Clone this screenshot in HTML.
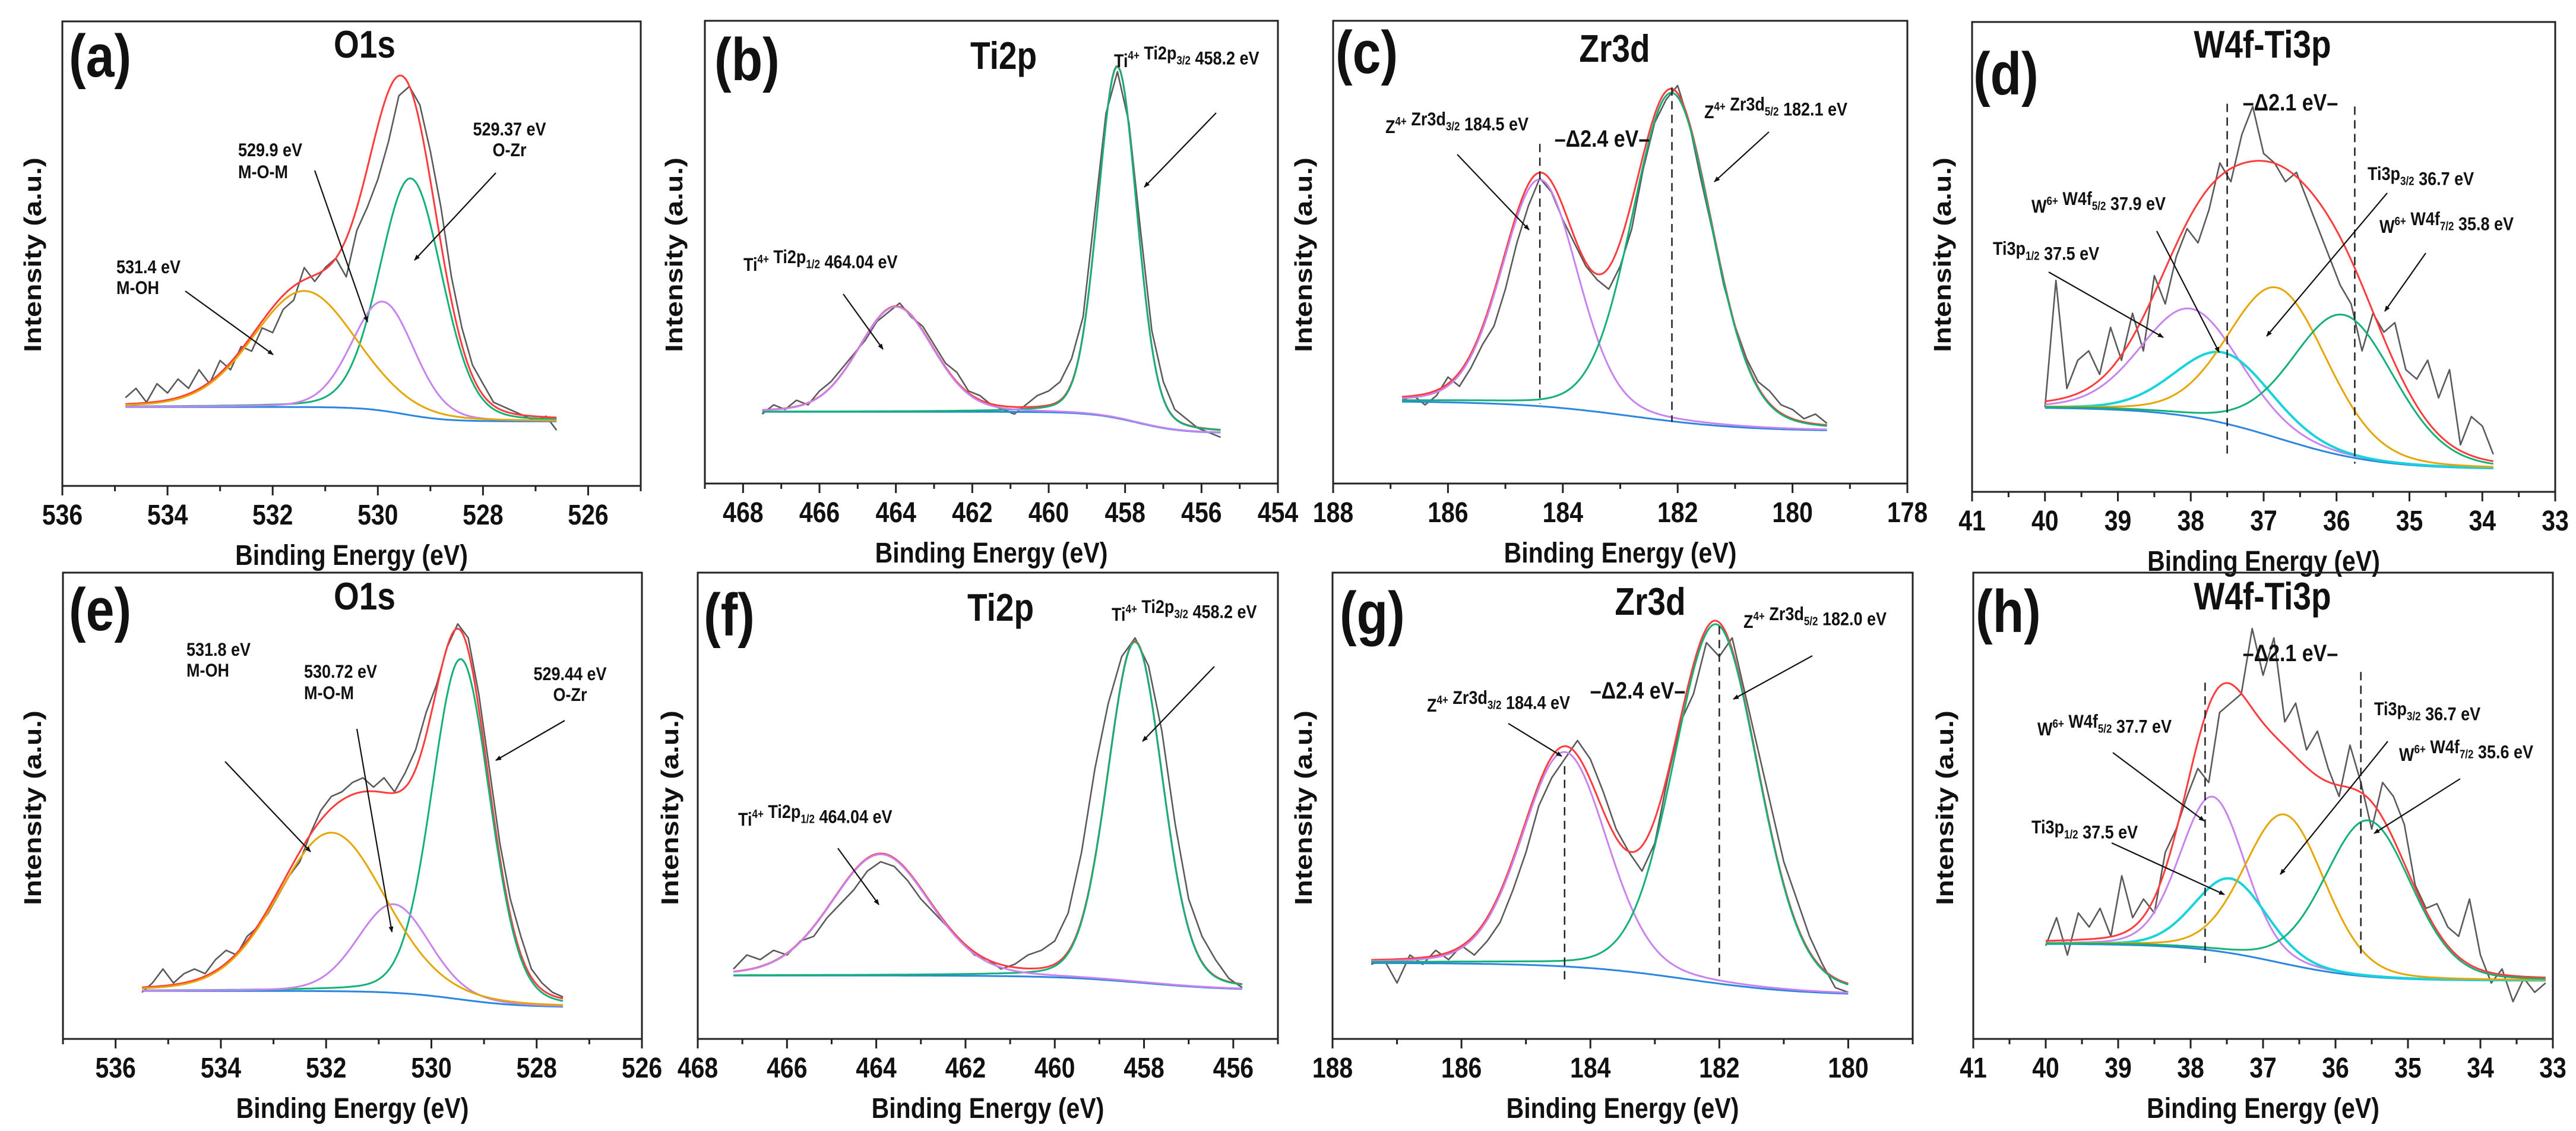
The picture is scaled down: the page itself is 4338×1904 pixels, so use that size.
<!DOCTYPE html>
<html><head><meta charset="utf-8"><style>
html,body{margin:0;padding:0;background:#fff}
svg{display:block}
text{font-family:"Liberation Sans",Arial,sans-serif;font-weight:bold;fill:#111}
</style></head><body>
<svg id="fig" xmlns="http://www.w3.org/2000/svg" width="4338" height="1904" viewBox="0 0 4338 1904">
<defs><marker id="ah" markerWidth="10" markerHeight="8" refX="9" refY="4" orient="auto" markerUnits="userSpaceOnUse" viewBox="0 0 10 8"><path d="M0,0 L10,4 L0,8 Z" fill="#111"/></marker></defs>
<rect width="4338" height="1904" fill="#fff"/>
</svg>
<script>
// ===== DATA (intensity as fraction of frame height) =====
// (a) O1s
const rawStartA=534.8, rawStepA=-0.2;
const rawA=[.19,.21,.18,.22,.20,.23,.21,.25,.22,.27,.25,.30,.29,.34,.33,.38,.40,.47,.44,.47,.49,.45,.55,.60,.66,.74,.84,.86,.82,.72,.60,.45,.34,.26,.22,.18,.17,.16,.15,.14,.15,.12];
const centersA=[529.37,529.9,531.4], heightsA=[.51,.235,.25], fwhmA=[1.4,1.4,2.3];
const baseA=[.17,.139,529.5,.4];
// (b) Ti2p
const rawStartB=467.5, rawStepB=-0.3;
const rawB=[.15,.17,.16,.18,.17,.20,.22,.25,.28,.31,.35,.37,.39,.36,.34,.30,.26,.24,.20,.19,.17,.16,.15,.17,.19,.20,.22,.27,.36,.58,.80,.89,.78,.55,.33,.22,.16,.14,.12,.11,.10];
const centersB=[458.2,464.0], heightsB=[.76,.227], fwhmB=[1.2,2.3];
const baseB=[.155,.109,457.7,.6];
// (c) Zr3d
const rawStartC=186.8, rawStepC=-0.2;
const rawC=[.18,.19,.17,.19,.23,.21,.25,.30,.34,.42,.52,.60,.66,.63,.57,.52,.47,.44,.42,.47,.55,.68,.78,.83,.86,.78,.66,.55,.43,.34,.27,.22,.20,.17,.16,.14,.15,.13];
const centersC=[184.4,182.1], heightsC=[.49,.71], fwhmC=[1.55,1.65];
const baseC=[.178,.113,182.8,1.0];
// (d) W4f-Ti3p
const rawStartD=40.0, rawStepD=-0.15;
const rawD=[.18,.45,.22,.28,.30,.25,.35,.28,.38,.30,.46,.40,.50,.56,.53,.60,.70,.66,.76,.82,.72,.70,.66,.68,.62,.56,.50,.44,.40,.30,.38,.34,.36,.26,.24,.28,.20,.26,.10,.16,.14,.08];
const centersD=[38.0,37.55,36.8,35.9], heightsD=[.23,.15,.32,.30], fwhmD=[1.6,1.55,1.6,1.65];
const baseD=[.18,.048,36.8,.7];
// (e) O1s
const rawStartE=535.5, rawStepE=-0.2;
const rawE=[.10,.12,.15,.12,.14,.15,.14,.17,.19,.18,.22,.24,.27,.31,.35,.38,.44,.49,.52,.53,.55,.56,.54,.56,.53,.57,.62,.70,.76,.84,.89,.86,.74,.58,.42,.30,.22,.15,.12,.10,.09];
const centersE=[529.44,530.72,531.9], heightsE=[.73,.19,.34], fwhmE=[1.3,1.6,2.4];
const baseE=[.103,.068,529.5,.6];
// (f) Ti2p
const rawStartF=467.2, rawStepF=-0.3;
const rawF=[.15,.18,.17,.19,.18,.21,.22,.26,.29,.32,.36,.38,.37,.34,.30,.27,.24,.21,.18,.17,.15,.16,.18,.19,.21,.27,.40,.58,.72,.82,.86,.80,.66,.46,.30,.22,.17,.13,.11];
const centersF=[458.2,463.9], heightsF=[.73,.26], fwhmF=[1.45,2.6];
const baseF=[.136,.104,458,1.0];
// (g) Zr3d
const rawStartG=187.4, rawStepG=-0.2;
const rawG=[.16,.17,.12,.18,.16,.19,.17,.20,.18,.21,.25,.32,.40,.50,.56,.60,.64,.60,.53,.45,.40,.36,.42,.56,.68,.74,.85,.82,.86,.74,.62,.50,.38,.30,.22,.16,.11,.10];
const centersG=[184.4,182.05], heightsG=[.46,.77], fwhmG=[1.55,1.55];
const baseG=[.163,.093,182.5,.9];
// (h) W4f-Ti3p
const rawStartH=40.0, rawStepH=-0.15;
const rawH=[.20,.26,.18,.27,.24,.28,.22,.35,.26,.30,.27,.40,.45,.52,.58,.55,.70,.72,.74,.88,.78,.86,.68,.72,.62,.66,.58,.52,.63,.55,.45,.55,.52,.46,.33,.28,.29,.24,.22,.30,.18,.12,.15,.08,.13,.10,.12];
const centersH=[37.7,37.45,36.7,35.55], heightsH=[.33,.16,.32,.335], fwhmH=[1.06,1.18,1.3,1.41];
const baseH=[.204,.125,36.8,.6];

// ===== LAYOUT =====
const COL={green:'#13b078',purple:'#c883ee',orange:'#e6a500',cyan:'#16d3dc',blue:'#2a86e0',red:'#ff3b3b',raw:'#5a5a5a'};
const S=1.18;
const NS='http://www.w3.org/2000/svg';
const svg=document.getElementById('fig');
function mk(tag,attrs){const e=document.createElementNS(NS,tag);for(const k in attrs)e.setAttribute(k,attrs[k]);svg.appendChild(e);return e;}
function txt(x,y,html,size,anchor,rot){const e=mk('text',{transform:`translate(${x},${y}) scale(1,${S})`+(rot?' rotate(-90)':''),'font-size':size,'text-anchor':anchor||'start'});e.innerHTML=html;return e;}
function sup(s){return `<tspan dy="-11" font-size="17">${s}</tspan><tspan dy="11"></tspan>`;}
function sub(s){return `<tspan dy="7" font-size="17">${s}</tspan><tspan dy="-7"></tspan>`;}

const panels=[
 {id:'a',x0:105,x1:1079,y0:36,y1:818,eL:536,eR:525,lab:[536,534,532,530,528,526],minor:1,title:'O1s',tcx:614,tcy:73,lx:116,lcy:92,ytx:53,ytcy:429,
  raw:rawA,rs:rawStartA,rst:rawStepA,cen:centersA,hgt:heightsA,fw:fwhmA,base:baseA,cols:['green','purple','orange'],
  ann:[{x:858,y:228,a:'middle',t:'529.37 eV'},{x:858,y:263,a:'middle',t:'O-Zr'},{x:401,y:263,t:'529.9 eV'},{x:401,y:300,t:'M-O-M'},{x:196,y:460,t:'531.4 eV'},{x:196,y:495,t:'M-OH'}],
  arr:[[835,291,698,438],[530,287,619,542],[312,490,460,597]],dash:[]},
 {id:'b',x0:1187,x1:2152,y0:35,y1:814,eL:469,eR:454,lab:[468,466,464,462,460,458,456,454],minor:1,title:'Ti2p',tcx:1690,tcy:92,lx:1203,lcy:98,ytx:1133,ytcy:429,
  raw:rawB,rs:rawStartB,rst:rawStepB,cen:centersB,hgt:heightsB,fw:fwhmB,base:baseB,cols:['green','purple'],
  ann:[{x:1876,y:113,t:'Ti'+sup('4+')+' Ti2p'+sub('3/2')+'  458.2 eV'},{x:1252,y:456,t:'Ti'+sup('4+')+' Ti2p'+sub('1/2')+'  464.04 eV'}],
  arr:[[2048,190,1927,315],[1420,495,1487,588]],dash:[]},
 {id:'c',x0:2245,x1:3212,y0:35,y1:814,eL:188,eR:178,lab:[188,186,184,182,180,178],minor:1,title:'Zr3d',tcx:2719,tcy:80,lx:2249,lcy:86,ytx:2193,ytcy:429,
  raw:rawC,rs:rawStartC,rst:rawStepC,cen:centersC,hgt:heightsC,fw:fwhmC,base:baseC,cols:['purple','green'],
  ann:[{x:2333,y:224,t:'Z'+sup('4+')+' Zr3d'+sub('3/2')+' 184.5 eV'},{x:2870,y:199,t:'Z'+sup('4+')+' Zr3d'+sub('5/2')+' 182.1 eV'},{x:2698,y:247,a:'middle',s:34,t:'–Δ2.4 eV–'}],
  arr:[[2454,260,2575,387],[2979,222,2887,306]],dash:[[184.4,.734,.172],[182.1,.856,.133]]},
 {id:'d',x0:3321,x1:4303,y0:37,y1:828,eL:41,eR:33,lab:[41,40,39,38,37,36,35,34,33],minor:.5,title:'W4f-Ti3p',tcx:3810,tcy:73,lx:3323,lcy:122,ytx:3269,ytcy:429,
  raw:rawD,rs:rawStartD,rst:rawStepD,cen:centersD,hgt:heightsD,fw:fwhmD,base:baseD,cols:['purple','cyan','orange','green'],
  ann:[{x:3987,y:303,t:'Ti3p'+sub('3/2')+' 36.7 eV'},{x:3421,y:358,t:'W'+sup('6+')+' W4f'+sub('5/2')+' 37.9 eV'},{x:4007,y:392,t:'W'+sup('6+')+' W4f'+sub('7/2')+' 35.8 eV'},{x:3356,y:429,t:'Ti3p'+sub('1/2')+' 37.5 eV'},{x:3857,y:186,a:'middle',s:34,t:'–Δ2.1 eV–'}],
  arr:[[4020,325,3817,566],[3632,389,3737,593],[4085,426,4016,524],[3450,458,3643,568]],dash:[[37.5,.826,.071],[35.75,.82,.06]]},
 {id:'e',x0:106,x1:1081,y0:964,y1:1749,eL:537,eR:526,lab:[536,534,532,530,528,526],minor:1,title:'O1s',tcx:614,tcy:1002,lx:116,lcy:1024,ytx:53,ytcy:1360,
  raw:rawE,rs:rawStartE,rst:rawStepE,cen:centersE,hgt:heightsE,fw:fwhmE,base:baseE,cols:['green','purple','orange'],
  ann:[{x:314,y:1104,t:'531.8 eV'},{x:314,y:1139,t:'M-OH'},{x:512,y:1141,t:'530.72 eV'},{x:512,y:1177,t:'M-O-M'},{x:960,y:1145,a:'middle',t:'529.44 eV'},{x:960,y:1180,a:'middle',t:'O-Zr'}],
  arr:[[379,1282,523,1434],[601,1227,660,1569],[951,1213,835,1280]],dash:[]},
 {id:'f',x0:1175,x1:2152,y0:964,y1:1749,eL:468,eR:455,lab:[468,466,464,462,460,458,456],minor:1,title:'Ti2p',tcx:1685,tcy:1021,lx:1185,lcy:1033,ytx:1126,ytcy:1360,
  raw:rawF,rs:rawStartF,rst:rawStepF,cen:centersF,hgt:heightsF,fw:fwhmF,base:baseF,cols:['green','purple'],
  ann:[{x:1872,y:1045,t:'Ti'+sup('4+')+' Ti2p'+sub('3/2')+'  458.2 eV'},{x:1243,y:1390,t:'Ti'+sup('4+')+' Ti2p'+sub('1/2')+'  464.04 eV'}],
  arr:[[2045,1122,1924,1248],[1411,1428,1480,1523]],dash:[]},
 {id:'g',x0:2244,x1:3221,y0:964,y1:1749,eL:188,eR:179,lab:[188,186,184,182,180],minor:1,title:'Zr3d',tcx:2779,tcy:1011,lx:2256,lcy:1030,ytx:2193,ytcy:1360,
  raw:rawG,rs:rawStartG,rst:rawStepG,cen:centersG,hgt:heightsG,fw:fwhmG,base:baseG,cols:['purple','green'],
  ann:[{x:2936,y:1057,t:'Z'+sup('4+')+' Zr3d'+sub('5/2')+' 182.0 eV'},{x:2403,y:1198,t:'Z'+sup('4+')+' Zr3d'+sub('3/2')+' 184.4 eV'},{x:2758,y:1176,a:'middle',s:34,t:'–Δ2.4 eV–'}],
  arr:[[3052,1104,2919,1177],[2540,1218,2630,1273]],dash:[[184.4,.585,.117],[182.0,.885,.129]]},
 {id:'h',x0:3323,x1:4299,y0:964,y1:1749,eL:41,eR:33,lab:[41,40,39,38,37,36,35,34,33],minor:.5,title:'W4f-Ti3p',tcx:3810,tcy:1002,lx:3327,lcy:1027,ytx:3273,ytcy:1360,
  raw:rawH,rs:rawStartH,rst:rawStepH,cen:centersH,hgt:heightsH,fw:fwhmH,base:baseH,cols:['purple','cyan','orange','green'],
  ann:[{x:3998,y:1204,t:'Ti3p'+sub('3/2')+' 36.7 eV'},{x:3431,y:1238,t:'W'+sup('6+')+' W4f'+sub('5/2')+' 37.7 eV'},{x:4040,y:1281,t:'W'+sup('6+')+' W4f'+sub('7/2')+' 35.6 eV'},{x:3421,y:1403,t:'Ti3p'+sub('1/2')+' 37.5 eV'},{x:3857,y:1113,a:'middle',s:34,t:'–Δ2.1 eV–'}],
  arr:[[4021,1248,3840,1472],[3558,1267,3712,1382],[4143,1311,3998,1403],[3556,1419,3746,1506]],dash:[[37.8,.764,.163],[35.65,.787,.183]]}
];

function pv(E,c,h,w){const s=w/2.3548;const g=Math.exp(-(E-c)*(E-c)/(2*s*s));const l=1/(1+4*(E-c)*(E-c)/(w*w));return h*(0.85*g+0.15*l);}
function baseAt(b,E){return b[1]+(b[0]-b[1])/(1+Math.exp(-(E-b[2])/b[3]));}

panels.forEach(P=>{
  const xs=E=>P.x0+(P.eL-E)/(P.eL-P.eR)*(P.x1-P.x0);
  const ys=f=>P.y1-f*(P.y1-P.y0);
  const eStart=P.rs, eEnd=P.rs+P.rst*(P.raw.length-1);
  let d='';
  P.raw.forEach((v,i)=>{d+=(i?'L':'M')+xs(P.rs+P.rst*i).toFixed(1)+','+ys(v).toFixed(1);});
  const raw=mk('path',{d:d,fill:'none',stroke:COL.raw,'stroke-width':2.6,'stroke-linejoin':'round'});
  
  
  const N=220;
  const Es=[];for(let i=0;i<=N;i++)Es.push(eStart+(eEnd-eStart)*i/N);
  let fd='';
  Es.forEach((E,i)=>{let v=baseAt(P.base,E);P.cen.forEach((c,k)=>{v+=pv(E,c,P.hgt[k],P.fw[k]);});fd+=(i?'L':'M')+xs(E).toFixed(1)+','+ys(v).toFixed(1);});
  const fit=mk('path',{d:fd,fill:'none',stroke:COL.red,'stroke-width':3});
  
  
  let bd='';
  Es.forEach((E,i)=>{bd+=(i?'L':'M')+xs(E).toFixed(1)+','+ys(baseAt(P.base,E)).toFixed(1);});
  const bl=mk('path',{d:bd,fill:'none',stroke:COL.blue,'stroke-width':3});
  
  
  P.cen.forEach((c,k)=>{
    let cd='';
    Es.forEach((E,i)=>{cd+=(i?'L':'M')+xs(E).toFixed(1)+','+ys(baseAt(P.base,E)+pv(E,c,P.hgt[k],P.fw[k])).toFixed(1);});
    const cp=mk('path',{d:cd,fill:'none',stroke:COL[P.cols[k]],'stroke-width':P.cols[k]==='cyan'?4:3});
    
    
  });
  P.dash.forEach(dl=>{
    const ln=mk('line',{x1:xs(dl[0]),x2:xs(dl[0]),y1:ys(dl[1]),y2:ys(dl[2]),stroke:'#222','stroke-width':2.5,'stroke-dasharray':'14,9'});
    
    
  });
  const fr=mk('rect',{x:P.x0,y:P.y0,width:P.x1-P.x0,height:P.y1-P.y0,fill:'none',stroke:'#222','stroke-width':3});
  
  
  const lo=Math.min(P.eL,P.eR), hi=Math.max(P.eL,P.eR);
  for(let e=Math.ceil(lo/P.minor)*P.minor;e<=hi+1e-6;e+=P.minor){
    const major=P.lab.some(l=>Math.abs(l-e)<1e-6);
    const t=mk('line',{x1:xs(e),x2:xs(e),y1:P.y1,y2:P.y1+(major?16:9),stroke:'#222','stroke-width':3});
    
    
  }
  P.lab.forEach(l=>{
    const tl=txt(xs(l),P.y1+65,String(l),41,'middle');
    
    
  });
  const xt=txt((P.x0+P.x1)/2,P.y1+133,'Binding Energy (eV)',41,'middle');
  
  
  const yt=txt(P.ytx+16,P.ytcy,'Intensity (a.u.)',41,'middle',true);
  
  
  const ti=txt(P.tcx,P.tcy+24,P.title,55,'middle');
  
  
  const lb=txt(P.lx,P.lcy+37,'('+P.id+')',86,'start');
  
  
  P.ann.forEach(a=>{
    const at=txt(a.x,a.y,a.t,a.s||27,a.a||'start');
    
    
  });
  P.arr.forEach(r=>{
    const ar=mk('line',{x1:r[0],y1:r[1],x2:r[2],y2:r[3],stroke:'#111','stroke-width':2.2,'marker-end':'url(#ah)'});
    
    
  });
});
</script>
</body></html>
